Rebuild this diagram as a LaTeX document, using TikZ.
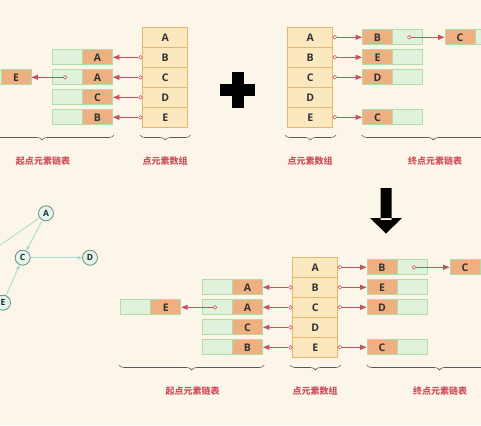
\documentclass[tikz,border=0pt]{standalone}
\usepackage{fontspec}
\setmainfont{Open Sans}
\newfontfamily\cjk{Noto Sans CJK SC}
\usetikzlibrary{arrows.meta,decorations.pathreplacing}
\definecolor{bgc}{HTML}{FCF6EA}
\definecolor{cellfill}{HTML}{FBE8BE}
\definecolor{cellline}{HTML}{E3B672}
\definecolor{ofill}{HTML}{EEB080}
\definecolor{gfill}{HTML}{E0F2DC}
\definecolor{gline}{HTML}{B3DBA6}
\definecolor{ptrc}{HTML}{C9505C}
\definecolor{labc}{HTML}{D0505A}
\definecolor{vfill}{HTML}{E2F4EE}
\definecolor{vline}{HTML}{6E8C7E}
\definecolor{ecol}{HTML}{A6DACD}
\tikzset{
  cell/.style={draw=cellline, fill=cellfill, line width=0.8pt, minimum width=45pt, minimum height=20pt, inner sep=0pt, font=\bfseries\fontsize{10.5}{11}\selectfont, text=black!80},
  obox/.style={draw=gline, fill=ofill, line width=0.8pt, minimum width=30pt, minimum height=15pt, inner sep=0pt, font=\bfseries\fontsize{10.5}{11}\selectfont, text=black!80},
  gbox/.style={draw=gline, fill=gfill, line width=0.8pt, minimum width=30pt, minimum height=15pt, inner sep=0pt},
  pdot/.style={circle, draw=ptrc, fill=bgc, line width=0.5pt, minimum size=3.8pt, inner sep=0pt},
  ptr/.style={draw=ptrc, line width=0.8pt, -{Triangle[length=6.5pt,width=5pt]}},
  brc/.style={draw=black!65, line width=0.6pt, decorate, decoration={brace, amplitude=5pt}},
  lab/.style={font=\cjk\bfseries\fontsize{9}{10}\selectfont, text=labc},
  vert/.style={circle, draw=vline, fill=vfill, line width=0.8pt, minimum size=15pt, inner sep=0pt, font=\bfseries\fontsize{8.5}{9}\selectfont, text=black!85},
  gedge/.style={draw=ecol, line width=0.8pt, -{Triangle[length=4.5pt,width=3.5pt]}},
}
\begin{document}
\begin{tikzpicture}[x=1pt,y=-1pt]
\useasboundingbox (0,0) rectangle (481,425);
\clip (0,0) rectangle (481,425);
\fill[bgc] (0,0) rectangle (481,425);

% ================= top left: start lists =================
\foreach \l [count=\i] in {A,B,C,D,E}
  \node[cell] (L\l) at (165.2,{17.3+20*\i}) {\l};
\foreach \r/\t [count=\i] in {B/A,C/A,D/C,E/B}{
  \node[gbox] (Lg\r) at (67.3,{37.3+20*\i}) {};
  \node[obox] (Lo\r) at (97.5,{37.3+20*\i}) {\t};
  \node[pdot] (Ld\r) at ([xshift=-1.8pt]L\r.west) {};
  \draw[ptr] (Ld\r) -- (Lo\r.east);
}
\node[gbox] (LgX) at (-14,77.3) {};
\node[obox] (LoX) at (16,77.3) {E};
\node[pdot] (LdX) at (65,77.3) {};
\draw[ptr] (LdX) -- (LoX.east);
\draw[brc] (114,135) -- (-30,135);
\draw[brc] (190.5,135) -- (140,135);
\node[lab] (Ll1) at (43,161) {起点元素链表};
\node[lab] (Ll2) at (165.2,161) {点元素数组};

% plus sign
\fill[black] (220,84) rectangle (255,96);
\fill[black] (231.5,72) rectangle (243.5,108);

% ================= top right: end lists =================
\foreach \l [count=\i] in {A,B,C,D,E}
  \node[cell] (R\l) at (310.2,{17.3+20*\i}) {\l};
\foreach \r/\t/\i in {A/B/1,B/E/2,C/D/3,E/C/5}{
  \node[obox] (Ro\r) at (377.5,{17.3+20*\i}) {\t};
  \node[gbox] (Rg\r) at (407.5,{17.3+20*\i}) {};
  \node[pdot] (Rd\r) at ([xshift=1.8pt]R\r.east) {};
  \draw[ptr] (Rd\r) -- (Ro\r.west);
}
\node[obox] (RoX) at (460,37.3) {C};
\node[gbox] (RgX) at (490,37.3) {};
\node[pdot] (RdX) at (409.3,37.3) {};
\draw[ptr] (RdX) -- (RoX.west);
\draw[brc] (336,135) -- (285,135);
\draw[brc] (505,135) -- (361.7,135);
\node[lab] (Rl1) at (310.2,161) {点元素数组};
\node[lab] (Rl2) at (435,161) {终点元素链表};

% down arrow
\fill[black] (380.7,188) rectangle (391.7,220) (370,218) -- (402,218) -- (386,233.5) -- cycle;

% ================= graph =================
\node[vert] (gA) at (46,213.3) {A};
\node[vert] (gC) at (22.7,257.7) {C};
\node[vert] (gD) at (90,257.7) {D};
\node[vert] (gE) at (3,302.7) {E};
\coordinate (gB) at (-30,266);
\draw[gedge] (gA) -- (gC);
\draw[gedge] (gC) -- (gD);
\draw[gedge] (gE) -- (gC);
\draw[gedge] (gA) -- (gB);

% ================= bottom: combined =================
\foreach \l [count=\i] in {A,B,C,D,E}
  \node[cell] (M\l) at (315.2,{247.3+20*\i}) {\l};
\foreach \r/\t [count=\i] in {B/A,C/A,D/C,E/B}{
  \node[gbox] (Mg\r) at (217.3,{267.3+20*\i}) {};
  \node[obox] (Mo\r) at (247.5,{267.3+20*\i}) {\t};
  \node[pdot] (Md\r) at ([xshift=-1.8pt]M\r.west) {};
  \draw[ptr] (Md\r) -- (Mo\r.east);
}
\node[gbox] (MgX) at (135.5,307.3) {};
\node[obox] (MoX) at (165.8,307.3) {E};
\node[pdot] (MdX) at (215,307.3) {};
\draw[ptr] (MdX) -- (MoX.east);
\foreach \r/\t/\i in {A/B/1,B/E/2,C/D/3,E/C/5}{
  \node[obox] (No\r) at (382,{247.3+20*\i}) {\t};
  \node[gbox] (Ng\r) at (412,{247.3+20*\i}) {};
  \node[pdot] (Nd\r) at ([xshift=1.8pt]M\r.east) {};
  \draw[ptr] (Nd\r) -- (No\r.west);
}
\node[obox] (NoX) at (465,267.3) {C};
\node[gbox] (NgX) at (495,267.3) {};
\node[pdot] (NdX) at (414,267.3) {};
\draw[ptr] (NdX) -- (NoX.west);
\draw[brc] (264.3,365) -- (119,365);
\draw[brc] (340.7,365) -- (290,365);
\draw[brc] (512,365) -- (366.7,365);
\node[lab] (Ml1) at (192.5,390.7) {起点元素链表};
\node[lab] (Ml2) at (315.2,390.7) {点元素数组};
\node[lab] (Ml3) at (440,390.7) {终点元素链表};
\end{tikzpicture}
\end{document}
